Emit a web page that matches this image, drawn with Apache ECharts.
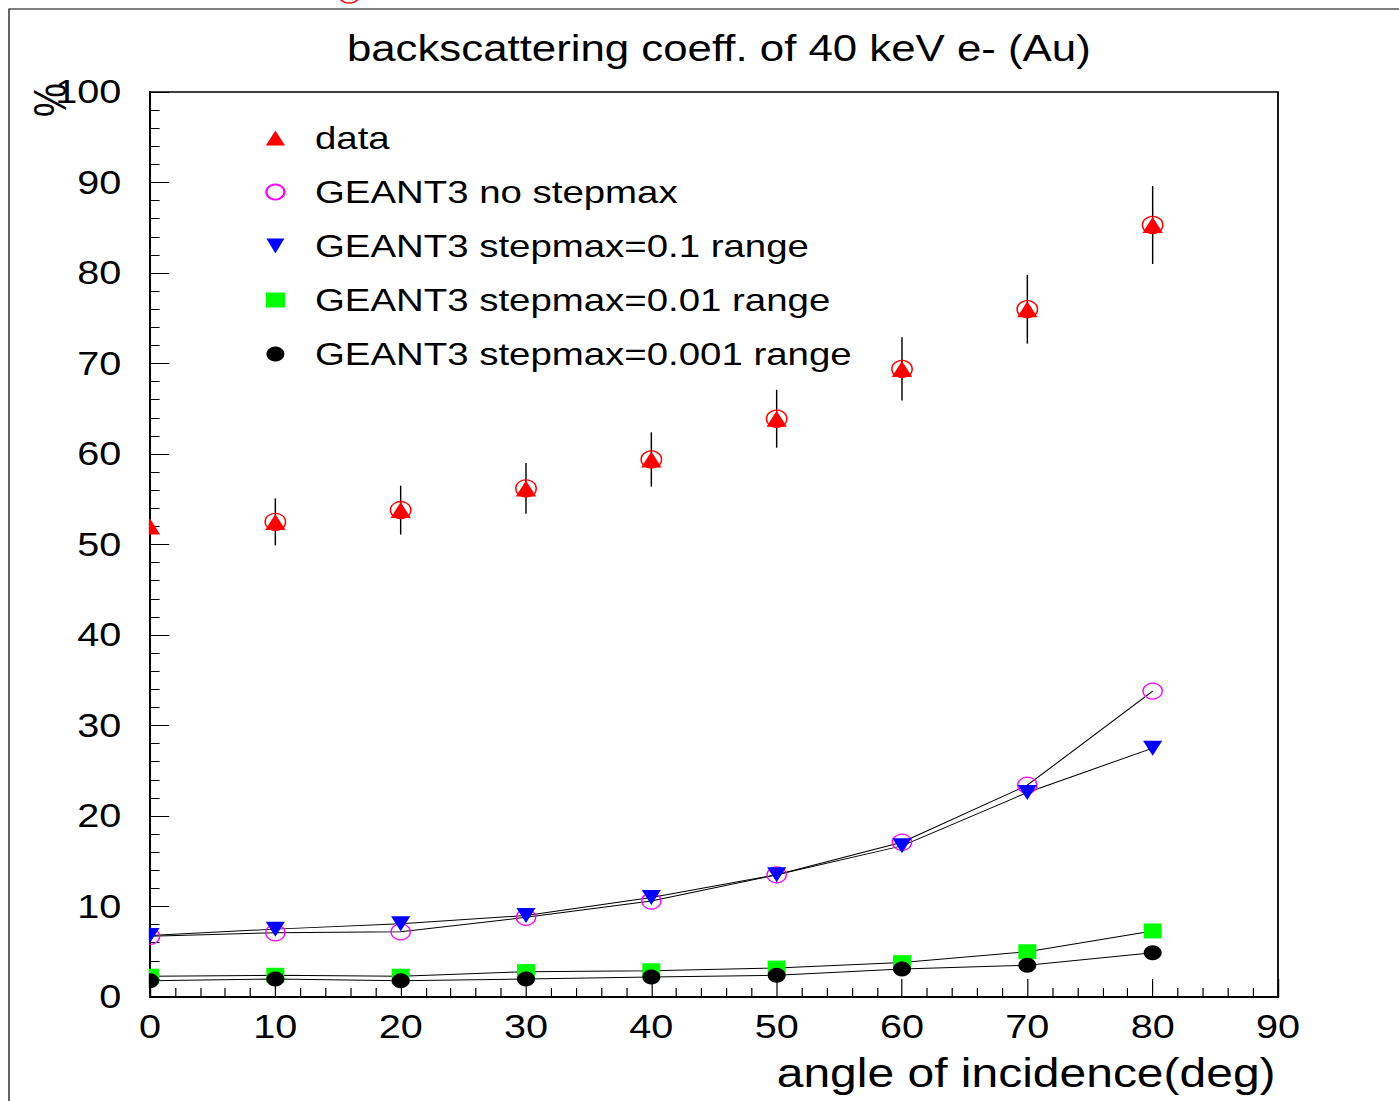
<!DOCTYPE html>
<html>
<head>
<meta charset="utf-8">
<script src="https://cdn.jsdelivr.net/npm/echarts@6/dist/echarts.min.js"></script>
<style>
  html, body { margin: 0; padding: 0; background: #fff; overflow: hidden; }
  /* the original plot is stretched sideways: draw it narrow, then widen it */
  #chart { width: 1166px; height: 1101px; transform: scaleX(1.2); transform-origin: 0 0; }
</style>
</head>
<body>
<div id="chart"></div>
<script>
const font = '"Liberation Sans", Arial, sans-serif';

// angle of incidence (deg)
const angles = [0, 10, 20, 30, 40, 50, 60, 70, 80];
// measured backscattering coefficient (%) and its error
const dataVals = [52.0, 52.5, 53.8, 56.2, 59.4, 63.9, 69.4, 76.0, 85.3];
const dataErr = [2.6, 2.6, 2.7, 2.8, 3.0, 3.2, 3.5, 3.8, 4.3];
// GEANT3 runs
const noStep = [6.7, 7.1, 7.2, 8.8, 10.6, 13.5, 17.1, 23.4, 33.8];
const step01 = [6.8, 7.5, 8.1, 9.0, 11.0, 13.5, 16.7, 22.6, 27.5];
const step001 = [2.3, 2.4, 2.3, 2.8, 2.9, 3.2, 3.8, 5.0, 7.3];
const step0001 = [1.8, 2.0, 1.8, 2.0, 2.2, 2.4, 3.1, 3.5, 4.9];

const xTicks = [0, 90, 10];
const yTicks = [0, 100, 10];

const names = ['data', 'GEANT3 no stepmax', 'GEANT3 stepmax=0.1 range',
  'GEANT3 stepmax=0.01 range', 'GEANT3 stepmax=0.001 range'];

function pairs(vals) {
  return angles.map((a, i) => [a, vals[i]]);
}

function simLine(name, vals) {
  return {
    name: name + ' line',
    type: 'line',
    data: pairs(vals),
    symbol: 'none',
    lineStyle: { color: '#000', width: 1 },
    z: 2
  };
}

const chart = echarts.init(document.getElementById('chart'), null, { renderer: 'svg' });

chart.setOption({
  animation: false,
  title: {
    text: 'backscattering coeff. of 40 keV e- (Au)',
    left: 594,
    top: 26,
    textAlign: 'center',
    textStyle: { fontFamily: font, fontSize: 36.5, fontWeight: 'normal', color: '#000', lineHeight: 36 }
  },
  legend: {
    orient: 'vertical',
    left: 216,
    top: 116,
    itemWidth: 16,
    itemHeight: 15,
    itemGap: 20,
    textStyle: { fontFamily: font, fontSize: 32, color: '#000', lineHeight: 34, padding: [0, 0, 0, 20] },
    data: [
      names[0],
      names[1],
      { name: names[2], icon: 'path://M0,0 L2,0 L1,2 Z' },
      names[3],
      names[4]
    ]
  },
  grid: {
    left: 125, right: 101, top: 92, bottom: 104,
    outerBoundsMode: 'none',
    show: true, borderColor: '#000', borderWidth: 1.5
  },
  xAxis: {
    type: 'value',
    min: xTicks[0], max: xTicks[1], interval: xTicks[2],
    axisLine: { show: true, lineStyle: { color: '#000', width: 2 } },
    axisTick: { show: true, inside: true, length: 18, lineStyle: { color: '#000', width: 1 } },
    minorTick: { show: true, splitNumber: 5, length: 9, lineStyle: { color: '#000', width: 1 } },
    axisLabel: { fontFamily: font, fontSize: 33, color: '#000', margin: 13 },
    splitLine: { show: false }
  },
  yAxis: {
    type: 'value',
    min: yTicks[0], max: yTicks[1], interval: yTicks[2],
    axisLine: { show: true, lineStyle: { color: '#000', width: 1.7 } },
    axisTick: { show: true, inside: true, length: 16, lineStyle: { color: '#000', width: 1 } },
    minorTick: { show: true, splitNumber: 5, length: 8, lineStyle: { color: '#000', width: 1 } },
    axisLabel: { fontFamily: font, fontSize: 33, color: '#000', margin: 24 },
    splitLine: { show: false }
  },
  graphic: [
    // hide the left halves of the markers sitting on x = 0
    { type: 'rect', z: 100, shape: { x: 104, y: 92, width: 20, height: 905 }, style: { fill: '#fff' } },
    // outer frame of the canvas
    { type: 'rect', shape: { x: 7.5, y: 9, width: 1300, height: 1200 }, style: { fill: 'none', stroke: '#000', lineWidth: 1 } },
    // axis titles
    {
      type: 'text', x: 42, y: 100, rotation: Math.PI / 2,
      style: { text: '%', font: '38px "Liberation Sans", Arial', fill: '#000', align: 'center', verticalAlign: 'middle' }
    },
    {
      type: 'text', x: 1063, y: 1073,
      style: { text: 'angle of incidence(deg)', font: '40px "Liberation Sans", Arial', fill: '#000', align: 'right', verticalAlign: 'middle' }
    },
    // stray marker peeking in at the top edge
    { type: 'circle', shape: { cx: 291, cy: -6, r: 9 }, style: { fill: 'none', stroke: '#ff0000', lineWidth: 1.5 } }
  ],
  series: [
    simLine(names[1], noStep),
    simLine(names[2], step01),
    simLine(names[3], step001),
    simLine(names[4], step0001),
    {
      name: 'data error',
      type: 'custom',
      data: angles.map((a, i) => [a, dataVals[i] - dataErr[i], dataVals[i] + dataErr[i]]),
      encode: { x: 0, y: [1, 2] },
      renderItem: function (params, api) {
        const lo = api.coord([api.value(0), api.value(1)]);
        const hi = api.coord([api.value(0), api.value(2)]);
        return {
          type: 'line',
          shape: { x1: lo[0], y1: lo[1], x2: hi[0], y2: hi[1] },
          style: { stroke: '#000', lineWidth: 1.2 }
        };
      },
      z: 3
    },
    {
      name: names[0],
      type: 'scatter',
      data: pairs(dataVals),
      symbol: 'triangle',
      symbolSize: [17, 16],
      itemStyle: { color: '#ff0000', opacity: 1 },
      z: 4
    },
    {
      name: 'data circle',
      type: 'scatter',
      data: pairs(dataVals).slice(1),
      symbol: 'circle',
      symbolSize: 17,
      itemStyle: { color: 'rgba(0,0,0,0)', borderColor: '#ff0000', borderWidth: 1.3, opacity: 1 },
      z: 5
    },
    {
      name: names[1],
      type: 'scatter',
      data: pairs(noStep),
      symbol: 'circle',
      symbolSize: 16,
      itemStyle: { color: 'rgba(0,0,0,0)', borderColor: '#ff00ff', borderWidth: 1.2, opacity: 1 },
      z: 4
    },
    {
      name: names[2],
      type: 'scatter',
      data: pairs(step01),
      symbol: 'triangle',
      symbolRotate: 180,
      symbolSize: [16, 15],
      itemStyle: { color: '#0000ff', opacity: 1 },
      z: 5
    },
    {
      name: names[3],
      type: 'scatter',
      data: pairs(step001),
      symbol: 'rect',
      symbolSize: [15, 15],
      itemStyle: { color: '#00ff00', opacity: 1 },
      z: 4
    },
    {
      name: names[4],
      type: 'scatter',
      data: pairs(step0001),
      symbol: 'circle',
      symbolSize: [15, 15],
      itemStyle: { color: '#000', opacity: 1 },
      z: 5
    }
  ]
});
</script>
</body>
</html>
